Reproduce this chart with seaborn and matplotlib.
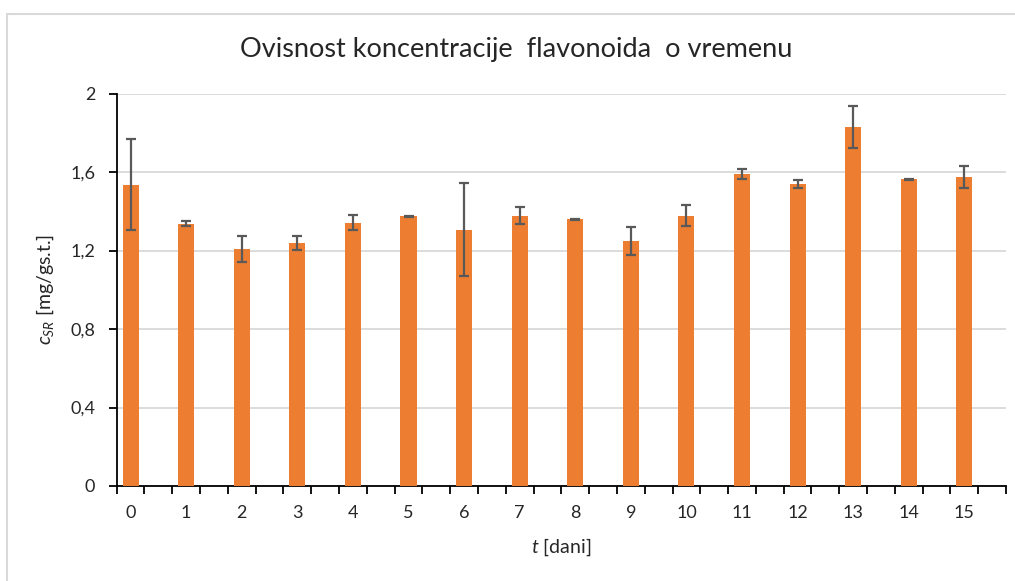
import numpy as np
import pandas as pd
import matplotlib
matplotlib.use("Agg")
import matplotlib.pyplot as plt
import seaborn as sns
from matplotlib.patches import Rectangle
from matplotlib.ticker import FixedLocator

# ---- data ----
days = [str(i) for i in range(16)]
conc = [1.537, 1.338, 1.208, 1.239, 1.343, 1.374, 1.307, 1.379,
        1.359, 1.249, 1.379, 1.591, 1.540, 1.830, 1.563, 1.576]
conc_sd = [0.234, 0.015, 0.068, 0.038, 0.038, 0.003, 0.237, 0.042,
           0.004, 0.072, 0.052, 0.026, 0.020, 0.105, 0.004, 0.057]
y_ticks = [0, 0.4, 0.8, 1.2, 1.6, 2.0]
y_tick_labels = ["0", "0,4", "0,8", "1,2", "1,6", "2"]
title = "Ovisnost koncentracije  flavonoida  o vremenu"

sns.set_theme(style="white")
plt.rcParams['font.family'] = ['Lato', 'DejaVu Sans']
plt.rcParams['mathtext.fontset'] = 'custom'
plt.rcParams['mathtext.rm'] = 'Lato'
plt.rcParams['mathtext.it'] = 'Lato:italic'

df = pd.DataFrame({"t": days, "c": conc})

fig = plt.figure(figsize=(10.15, 5.81), dpi=100)
ax = fig.add_axes([116.7/1015, 1-486/581, (1006-116.7)/1015, (486-93.7)/581])

# outer chart border
fig.patches.append(Rectangle((6.7/1015, -0.1), 1.2, 1-14/581+0.1,
                             transform=fig.transFigure, fill=False,
                             edgecolor='#d9d9d9', linewidth=1.5, zorder=0))

sns.barplot(data=df, x="t", y="c", order=days, color="#ED7D31",
            saturation=1, width=0.29, errorbar=None, ax=ax, zorder=3,
            linewidth=0)
pos = np.arange(len(days))
ax.errorbar(pos, conc, yerr=conc_sd, fmt='none', ecolor='#595959',
            elinewidth=1.6, capsize=3.4, capthick=1.6, zorder=4)

ax.set_xlim(-0.25, 15.75)
ax.set_ylim(0, 2)
ax.set_yticks(y_ticks)
ax.set_yticklabels(y_tick_labels)
ax.yaxis.grid(True, color='#d9d9d9', linewidth=1.3, zorder=0)
ax.set_axisbelow(True)

for s in ['top', 'right']:
    ax.spines[s].set_visible(False)
for s in ['left', 'bottom']:
    ax.spines[s].set_color('black')
    ax.spines[s].set_linewidth(1.3)

ax.xaxis.set_minor_locator(FixedLocator(np.arange(-0.25, 15.76, 0.5)))
ax.tick_params(axis='x', which='major', length=0, pad=14, labelsize=13, colors='#262626')
ax.tick_params(axis='x', which='minor', length=5.5, width=1.3, direction='out', color='black', bottom=True)
ax.tick_params(axis='y', which='major', left=True, length=5.5, width=1.3, direction='out',
               color='black', pad=10, labelsize=13, labelcolor='#262626')

ax.set_xlabel(r'$t$ [dani]', fontsize=14, color='#262626', labelpad=11)
ax.set_ylabel(r'$c_{SR}$ [mg/gs.t.]', fontsize=14, color='#262626', labelpad=10)
fig.text(516/1015, 1-50/581, title, fontsize=19.5, color='#262626',
         ha='center', va='center')

fig.savefig("out.png", dpi=100)
